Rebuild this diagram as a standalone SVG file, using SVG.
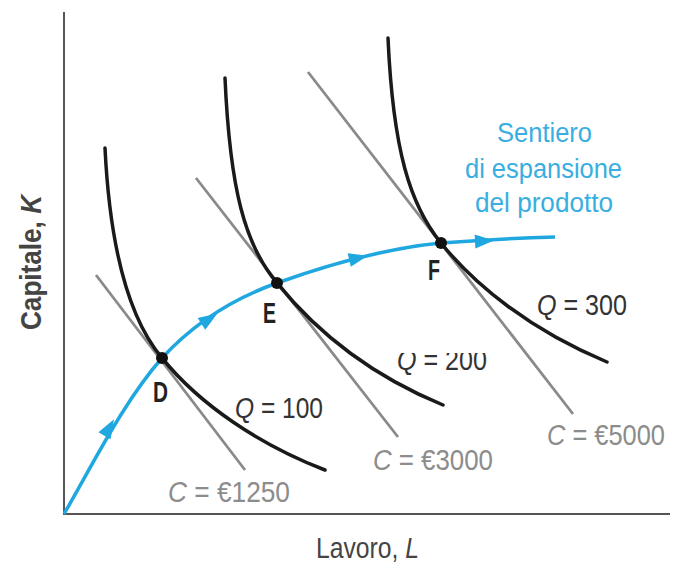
<svg xmlns="http://www.w3.org/2000/svg" width="674" height="565" viewBox="0 0 674 565">
<defs>
<style>
.axis{stroke:#555;stroke-width:2;fill:none}
.iso{stroke:#1a1a1a;stroke-width:3.5;fill:none;stroke-linecap:round}
.cost{stroke:#8a8a8a;stroke-width:2.8;fill:none}
.path{stroke:#1fa7e0;stroke-width:3.5;fill:none}
.arr{fill:#1fa7e0}
.lbl{font-family:"Liberation Sans",Arial,sans-serif;font-size:30px}
.q{fill:#333}
.c{fill:#8c8c8c}
.pt{font-family:"Liberation Sans",Arial,sans-serif;font-size:30px;font-weight:bold;fill:#222}
.blue{font-family:"Liberation Sans",Arial,sans-serif;font-size:27px;fill:#39aee0}
.ax{font-family:"Liberation Sans",Arial,sans-serif;font-size:30px;fill:#444}
</style>
<clipPath id="clip200"><rect x="380" y="353" width="130" height="30"/></clipPath>
</defs>
<rect width="674" height="565" fill="#fff"/>
<g id="axes">
<line class="axis" x1="64" y1="12" x2="64" y2="515"/>
<line class="axis" x1="63" y1="514" x2="670" y2="514"/>
</g>
<g id="connectors">
<line class="cost" x1="96" y1="275" x2="245" y2="470"/>
<line class="cost" x1="196" y1="178" x2="398" y2="437"/>
<line class="cost" x1="308" y1="72" x2="573" y2="414"/>
<path class="iso" d="M105,148 C110,250 130,320 162,358 C200,405 260,445 325,470"/>
<path class="iso" d="M225,78 C230,190 245,245 277,283 C315,330 370,375 443,405"/>
<path class="iso" d="M388,38 C393,150 410,205 441,243 C475,285 530,330 607,362"/>
<path class="path" d="M64,514 C95,460 125,400 162,358 C195,322 235,298 277,283 C330,264 390,248 441,243 C480,240 520,238 555,237"/>
<polygon class="arr" points="-9,-7 10,0 -9,7" transform="translate(109,428) rotate(-60)"/>
<polygon class="arr" points="-9,-7 10,0 -9,7" transform="translate(209,319) rotate(-33)"/>
<polygon class="arr" points="-9,-7 10,0 -9,7" transform="translate(358,258) rotate(-13)"/>
<polygon class="arr" points="-9,-7 10,0 -9,7" transform="translate(484,241) rotate(-3)"/>
</g>
<g id="D"><circle cx="162" cy="358" r="6" fill="#111"/><text class="pt" x="153" y="402" textLength="15" lengthAdjust="spacingAndGlyphs">D</text></g>
<g id="E"><circle cx="277" cy="283" r="6" fill="#111"/><text class="pt" x="263" y="323" textLength="13" lengthAdjust="spacingAndGlyphs">E</text></g>
<g id="F"><circle cx="441" cy="243" r="6" fill="#111"/><text class="pt" x="428" y="280" textLength="12" lengthAdjust="spacingAndGlyphs">F</text></g>
<g id="labels">
<text class="lbl q" x="235" y="418" textLength="88" lengthAdjust="spacingAndGlyphs"><tspan font-style="italic">Q</tspan> = 100</text>
<text class="lbl q" x="397" y="370" textLength="90" lengthAdjust="spacingAndGlyphs" clip-path="url(#clip200)"><tspan font-style="italic">Q</tspan> = 200</text>
<text class="lbl q" x="537" y="315" textLength="90" lengthAdjust="spacingAndGlyphs"><tspan font-style="italic">Q</tspan> = 300</text>
<text class="lbl c" x="168" y="502" textLength="122" lengthAdjust="spacingAndGlyphs"><tspan font-style="italic">C</tspan> = €1250</text>
<text class="lbl c" x="373" y="470" textLength="120" lengthAdjust="spacingAndGlyphs"><tspan font-style="italic">C</tspan> = €3000</text>
<text class="lbl c" x="547" y="445" textLength="118" lengthAdjust="spacingAndGlyphs"><tspan font-style="italic">C</tspan> = €5000</text>
<text class="blue" x="497" y="142" textLength="95" lengthAdjust="spacingAndGlyphs">Sentiero</text>
<text class="blue" x="465" y="178" textLength="157" lengthAdjust="spacingAndGlyphs">di espansione</text>
<text class="blue" x="475" y="212" textLength="138" lengthAdjust="spacingAndGlyphs">del prodotto</text>
<text class="ax" x="316" y="558" textLength="103" lengthAdjust="spacingAndGlyphs">Lavoro, <tspan font-style="italic">L</tspan></text>
<text class="ax" font-weight="bold" fill="#555" transform="translate(41,330) rotate(-90)" textLength="135" lengthAdjust="spacingAndGlyphs">Capitale, <tspan font-style="italic">K</tspan></text>
</g>
</svg>
